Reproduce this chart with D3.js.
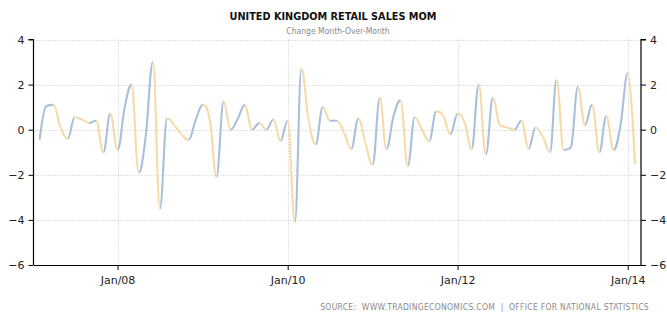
<!DOCTYPE html>
<html>
<head>
<meta charset="utf-8">
<script src="https://cdn.jsdelivr.net/npm/d3@7"></script>
<style>
  body { margin: 0; background: #fff; }
  svg { display: block; }
</style>
</head>
<body>
<div id="chart"></div>
<script>
// UK retail sales, month-over-month change (%), Jan 2007 .. Jan 2014
const firstMonth = "2007-01";
const retailSalesMoM = [
  -0.4, 1.05, 1.1, 0.1, -0.4, 0.55, 0.45, 0.3, 0.4, -1.0, 0.7, -0.9,
  1.0, 2.0, -1.9, -0.3, 3.0, -3.5, 0.5, 0.2, -0.2, -0.45, 0.4, 1.1,
  0.4, -2.1, 1.25, 0.0, 0.5, 1.1, 0.0, 0.3, 0.0, 0.45, -0.5, 0.4,
  -4.1, 2.7, 0.4, -0.65, 1.0, 0.4, 0.4, -0.15, -0.85, 0.5, -0.6, -1.55,
  1.4, -0.85, 0.6, 1.3, -1.6, 0.55, 0.0, -0.5, 0.8, 0.6, -0.2, 0.7,
  0.3, -0.85, 2.0, -1.1, 1.4, 0.2, 0.1, 0.0, 0.4, -0.85, 0.1, -0.3,
  -1.0, 2.2, -0.9, -0.8, 1.9, 0.2, 1.1, -1.0, 0.6, -0.9, 0.2, 2.5,
  -1.5
];
const yTicks = [-6, -4, -2, 0, 2, 4];
const xTickDates = ["2008-01-01", "2010-01-01", "2012-01-01", "2014-01-01"];
const xTickLabels = ["Jan/08", "Jan/10", "Jan/12", "Jan/14"];
const titleText = "UNITED KINGDOM RETAIL SALES MOM";
const subtitleText = "Change Month-Over-Month";
const sourceText = "SOURCE:  WWW.TRADINGECONOMICS.COM  |  OFFICE FOR NATIONAL STATISTICS";

const W = 667, H = 323;
const plot = { left: 33.5, right: 641, top: 39.5, bottom: 265 };
const RISE = "#a9bfda", FALL = "#f6dba8";

const parseDay = d3.utcParse("%Y-%m-%d");
const start = d3.utcParse("%Y-%m")(firstMonth);
// each monthly figure sits at the start of the following month
const data = retailSalesMoM.map((v, i) => ({
  date: d3.utcMonth.offset(start, i + 1),
  value: v
}));

const x = d3.scaleUtc()
  .domain([parseDay("2007-01-05"), parseDay("2014-02-27")])
  .range([plot.left, plot.right]);
const y = d3.scaleLinear().domain([-6, 4]).range([plot.bottom, plot.top]);

// Spline curve: bezier handles 0.4 of each interval, aligned through the point,
// and flattened where they would overshoot the neighbouring values.
function smoothSpline(context) {
  let pts;
  const s = 1.5, den = s + 1;
  return {
    areaStart() {}, areaEnd() {},
    lineStart() { pts = []; },
    point(px, py) { pts.push([+px, +py]); },
    lineEnd() {
      const n = pts.length;
      if (!n) return;
      const lc = [], rc = [];
      for (let i = 0; i < n; i++) {
        const [px, py] = pts[i];
        if (i > 0 && i < n - 1) {
          const [lx, ly] = pts[i - 1], [nx, ny] = pts[i + 1];
          let lcx = (s * px + lx) / den, lcy = (s * py + ly) / den;
          let rcx = (s * px + nx) / den, rcy = (s * py + ny) / den;
          let corr = 0;
          if (rcx !== lcx) corr = ((rcy - lcy) * (rcx - px)) / (rcx - lcx) + py - rcy;
          lcy += corr; rcy += corr;
          if (lcy > ly && lcy > py) { lcy = Math.max(ly, py); rcy = 2 * py - lcy; }
          else if (lcy < ly && lcy < py) { lcy = Math.min(ly, py); rcy = 2 * py - lcy; }
          if (rcy > ny && rcy > py) { rcy = Math.max(ny, py); lcy = 2 * py - rcy; }
          else if (rcy < ny && rcy < py) { rcy = Math.min(ny, py); lcy = 2 * py - rcy; }
          lc[i] = [lcx, lcy]; rc[i] = [rcx, rcy];
        } else {
          lc[i] = [px, py]; rc[i] = [px, py];
        }
      }
      context.moveTo(pts[0][0], pts[0][1]);
      for (let i = 1; i < n; i++) {
        context.bezierCurveTo(rc[i - 1][0], rc[i - 1][1], lc[i][0], lc[i][1], pts[i][0], pts[i][1]);
      }
    }
  };
}

const svg = d3.select("#chart").append("svg")
  .attr("width", W).attr("height", H)
  .style("font-family", "'DejaVu Sans', Verdana, sans-serif");

// title block
svg.append("text")
  .attr("x", 333).attr("y", 20)
  .attr("text-anchor", "middle")
  .style("font-family", "'DejaVu Sans Condensed', 'DejaVu Sans', sans-serif")
  .style("font-weight", "bold").style("font-size", "10.8px").attr("fill", "#111")
  .text(titleText);
svg.append("text")
  .attr("x", 338).attr("y", 34)
  .attr("text-anchor", "middle")
  .style("font-family", "'DejaVu Sans Condensed', 'DejaVu Sans', sans-serif")
  .style("font-size", "8.5px").attr("fill", "#8a8a8a")
  .text(subtitleText);

// grid
const grid = svg.append("g").attr("stroke", "#c4c4c4").attr("stroke-dasharray", "1,2").attr("stroke-width", 1);
grid.selectAll("line.h").data(yTicks.filter(t => t > -6)).join("line")
  .attr("class", "h")
  .attr("x1", plot.left).attr("x2", plot.right)
  .attr("y1", d => Math.round(y(d)) + 0.5).attr("y2", d => Math.round(y(d)) + 0.5);
grid.selectAll("line.v").data(xTickDates).join("line")
  .attr("class", "v")
  .attr("x1", d => Math.round(x(parseDay(d))) + 0.5).attr("x2", d => Math.round(x(parseDay(d))) + 0.5)
  .attr("y1", plot.top).attr("y2", plot.bottom);

// axes
const tickFmt = d => d3.format("d")(d);
const leftAxis = svg.append("g").attr("transform", `translate(${plot.left},0)`)
  .call(d3.axisLeft(y).tickValues(yTicks).tickSize(5).tickPadding(4).tickFormat(tickFmt));
const rightAxis = svg.append("g").attr("transform", `translate(${plot.right},0)`)
  .call(d3.axisRight(y).tickValues(yTicks).tickSize(5).tickPadding(4).tickFormat(tickFmt));
const bottomAxis = svg.append("g").attr("transform", `translate(0,${plot.bottom})`)
  .call(d3.axisBottom(x).tickValues(xTickDates.map(parseDay)).tickSizeInner(5).tickSizeOuter(0).tickPadding(6)
    .tickFormat((d, i) => xTickLabels[i]));
[leftAxis, rightAxis, bottomAxis].forEach(g => {
  g.select(".domain").attr("stroke", "#000").attr("stroke-width", 1.2);
  g.selectAll(".tick line").attr("stroke", "#000");
  g.selectAll(".tick text").attr("fill", "#222").style("font-size", "11px")
    .style("font-family", "'DejaVu Sans', Verdana, sans-serif");
});
leftAxis.select(".domain").attr("d", `M-5,${y(4)}H0V${y(-6)}`);
rightAxis.select(".domain").attr("d", `M5,${y(4)}H0V${y(-6)}`);

// clip regions: rising months in blue, falling months in sand
const defs = svg.append("defs");
const clipUp = defs.append("clipPath").attr("id", "clip-up");
const clipDown = defs.append("clipPath").attr("id", "clip-down");
for (let i = 1; i < data.length; i++) {
  const x0 = x(data[i - 1].date), x1 = x(data[i].date);
  const target = data[i].value >= data[i - 1].value ? clipUp : clipDown;
  target.append("rect")
    .attr("x", i === 1 ? x0 - 4 : x0).attr("width", x1 - x0 + (i === 1 || i === data.length - 1 ? 4 : 0))
    .attr("y", 0).attr("height", H);
}

const line = d3.line()
  .x(d => x(d.date))
  .y(d => y(d.value))
  .curve(smoothSpline);

svg.append("path").datum(data)
  .attr("d", line).attr("fill", "none")
  .attr("stroke", RISE).attr("stroke-width", 2.1).attr("stroke-linecap", "round")
  .attr("clip-path", "url(#clip-up)");
svg.append("path").datum(data)
  .attr("d", line).attr("fill", "none")
  .attr("stroke", FALL).attr("stroke-width", 2.1).attr("stroke-linecap", "round")
  .attr("clip-path", "url(#clip-down)");

// source line
svg.append("text")
  .attr("x", 649).attr("y", 310)
  .attr("text-anchor", "end")
  .style("white-space", "pre")
  .style("font-family", "'DejaVu Sans Condensed', 'DejaVu Sans', sans-serif")
  .style("font-size", "8.5px").style("letter-spacing", "0.3px").attr("fill", "#8a8a8a")
  .text(sourceText);
</script>
</body>
</html>
